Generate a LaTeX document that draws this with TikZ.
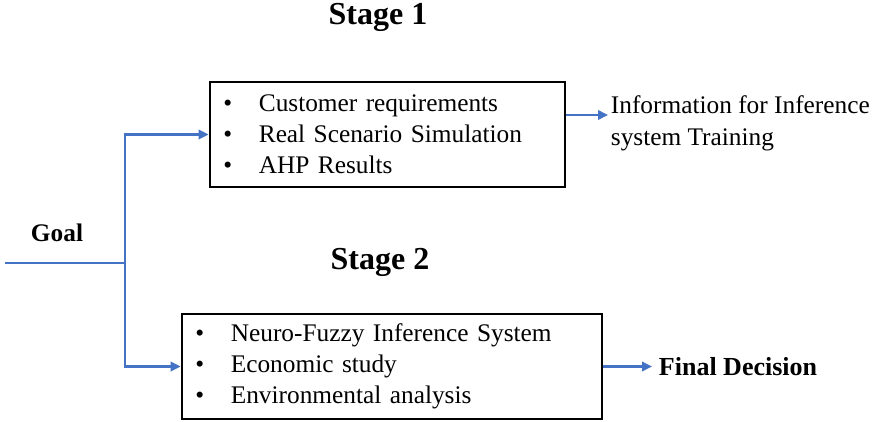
\documentclass[tikz,border=0pt]{standalone}
\usepackage{fontspec}
\setmainfont{Liberation Serif}
\usetikzlibrary{arrows.meta,positioning}
\definecolor{flowblue}{RGB}{68,114,196}

\begin{document}
\begin{tikzpicture}[x=0.75pt, y=-0.75pt,
  stagebox/.style={draw=black, line width=2pt, inner xsep=10pt, inner ysep=0pt,
    minimum height=78.75pt, align=left, font=\fontsize{19}{23.25}\selectfont},
  flow/.style={draw=flowblue, line width=1.8pt, -{Triangle[length=7.5pt,width=7pt]}},
  flowline/.style={draw=flowblue, line width=1.8pt},
  heading/.style={font=\bfseries\fontsize{24}{28}\selectfont, inner sep=0pt}]
  \useasboundingbox (0,0) rectangle (874,421);

  % titles
  \node[heading] (stage1) at (378,17) {Stage 1};
  \node[heading] (stage2) at (380,262) {Stage 2};

  % boxes
  \node[stagebox, text width=246.25pt] (box1) at (387.5,134.5)
    {\textbullet\hspace{20pt}Customer requirements\\
     \textbullet\hspace{20pt}Real Scenario Simulation\\
     \textbullet\hspace{20pt}AHP Results};
  \node[stagebox, text width=295pt] (box2) at (392,366.5)
    {\textbullet\hspace{20pt}Neuro-Fuzzy Inference System\\
     \textbullet\hspace{20pt}Economic study\\
     \textbullet\hspace{20pt}Environmental analysis};

  % goal
  \node[font=\bfseries\fontsize{19}{22}\selectfont] (goal) at (57,233) {Goal};
  \coordinate (start) at (5,263);
  \coordinate (split) at (125,263);
  \draw[flowline] (start) -- (split);
  \draw[flow] (split) |- (box1.west);
  \draw[flow] (split) |- (box2.west);

  % outputs
  \node[anchor=north west, inner sep=2pt, align=left,
        font=\fontsize{19}{24}\selectfont] (info) at (608,93)
    {Information for Inference\\system Training};
  \coordinate (infotip) at (info.west |- 0,115);
  \draw[flow] (box1.east |- infotip) -- (infotip);
  \node[anchor=west, inner sep=5pt, font=\bfseries\fontsize{19.5}{22}\selectfont]
    (final) at (652,366.5) {Final Decision};
  \draw[flow] (box2.east) -- (box2.east -| final.west);
\end{tikzpicture}
\end{document}
